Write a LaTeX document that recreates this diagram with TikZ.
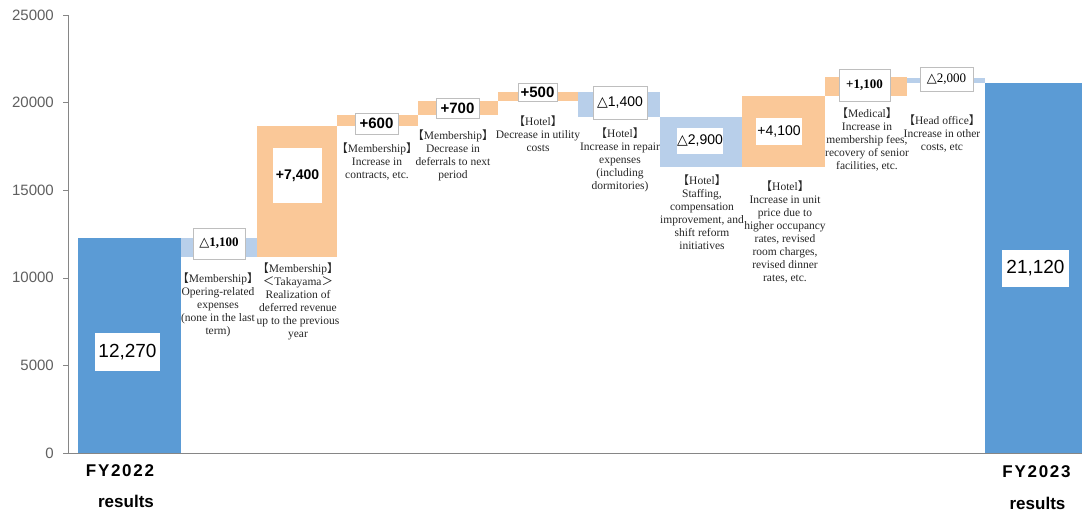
\documentclass[tikz,border=0pt]{standalone}
\usepackage{fontspec}
\setmainfont{Liberation Serif}
\setsansfont{Liberation Sans}
\newfontfamily\cjkf{Noto Sans CJK JP}
\newfontfamily\djvf{DejaVu Sans}
\newfontfamily\catf[LetterSpace=10]{Liberation Sans}
\newcommand\lbk{{\cjkf 【}}
\newcommand\rbk{{\cjkf 】}}
\newcommand\tri{{\djvf △}}
\definecolor{bluebar}{RGB}{91,155,213}
\definecolor{lightbar}{RGB}{184,207,234}
\definecolor{orangebar}{RGB}{250,200,152}
\definecolor{boxgray}{RGB}{190,190,190}
\definecolor{axisgray}{RGB}{134,134,134}
\definecolor{ticktext}{RGB}{95,95,95}
\begin{document}
\begin{tikzpicture}[x=1pt,y=-1pt,
  note/.style={align=center, anchor=north, inner sep=0pt, font=\fontsize{11.5}{13}\selectfont, text=black!85},
  valbox/.style={draw=boxgray, line width=0.6pt, fill=white, inner sep=0pt, text=black},
  bigbox/.style={fill=white, inner sep=0pt, text=black, font=\sffamily\fontsize{19}{22}\selectfont},
  sansval/.style={font=\sffamily\bfseries\fontsize{14}{16}\selectfont},
  serifval/.style={font=\bfseries\fontsize{13}{15}\selectfont},
  ticklab/.style={anchor=east, inner sep=0pt, text=ticktext, font=\sffamily\fontsize{15}{17}\selectfont},
  catlab/.style={inner sep=0pt, font=\catf\bfseries\fontsize{17}{19}\selectfont},
  catlabb/.style={inner sep=0pt, font=\sffamily\bfseries\fontsize{17}{19}\selectfont}
]
\useasboundingbox (0,0) rectangle (1082,512);
% axis
\draw[axisgray, line width=0.6pt] (68,15) -- (68,453);
\draw[axisgray, line width=0.6pt] (63,453) -- (1082,453);
\foreach \yy/\lab [count=\i] in {15/25000,102.6/20000,190.2/15000,277.8/10000,365.4/5000,453/0}{
  \draw[axisgray, line width=0.6pt] (63,\yy) -- (68,\yy);
  \node[ticklab] (tick\i) at (54,\yy) {\lab};
}
% totals
\fill[bluebar] (78,238) rectangle (181,453);
\fill[bluebar] (985,83) rectangle (1082,453);
% floating bars
\fill[lightbar] (181,238) rectangle (257,257);
\fill[orangebar] (257,126) rectangle (337,257);
\fill[orangebar] (337,115) rectangle (418,126);
\fill[orangebar] (418,101) rectangle (498,115);
\fill[orangebar] (498,92) rectangle (578,101);
\fill[lightbar] (578,92) rectangle (660,117);
\fill[lightbar] (660,117) rectangle (742,167);
\fill[orangebar] (742,96) rectangle (825,167);
\fill[orangebar] (825,77) rectangle (907,96);
\fill[lightbar] (907,78) rectangle (985,83);
% value boxes
\node[bigbox, minimum width=65pt, minimum height=38pt] (v0) at (127.5,352) {12,270};
\node[bigbox, minimum width=67pt, minimum height=37pt] (v11) at (1035.5,268.5) {21,120};
\node[valbox, serifval, minimum width=52pt, minimum height=31pt] (v1) at (219,243.5) {\tri1,100};
\node[valbox, sansval, minimum width=49pt, minimum height=55pt, draw=none] (v2) at (297.5,175.5) {+7,400};
\node[valbox, sansval, minimum width=43pt, minimum height=21pt, font=\sffamily\bfseries\fontsize{15}{17}\selectfont] (v3) at (376.5,123.5) {+600};
\node[valbox, sansval, minimum width=43pt, minimum height=20pt, font=\sffamily\bfseries\fontsize{15}{17}\selectfont] (v4) at (457.5,108) {+700};
\node[valbox, sansval, minimum width=39pt, minimum height=18pt, font=\sffamily\bfseries\fontsize{15}{17}\selectfont] (v5) at (537.5,92) {+500};
\node[valbox, font=\sffamily\fontsize{14}{16}\selectfont, minimum width=54pt, minimum height=33pt] (v6) at (620,102.5) {\tri1,400};
\node[valbox, font=\sffamily\fontsize{14}{16}\selectfont, minimum width=44pt, minimum height=26pt, draw=none] (v7) at (700,141) {\tri2,900};
\node[valbox, font=\sffamily\fontsize{14}{16}\selectfont, minimum width=46pt, minimum height=27pt, draw=none] (v8) at (779,131.5) {+4,100};
\node[valbox, serifval, minimum width=51pt, minimum height=32pt] (v9) at (864.5,85) {+1,100};
\node[valbox, font=\fontsize{13}{15}\selectfont, minimum width=53pt, minimum height=24pt] (v10) at (946.5,79) {\tri2,000};
% notes
\node[note] (n1) at (218,273) {\lbk Membership\rbk\\Opering-related\\expenses\\(none in the last\\term)};
\node[note] (n2) at (298,263) {\lbk Membership\rbk\\{\cjkf ＜}Takayama{\cjkf ＞}\\Realization of\\deferred revenue\\up to the previous\\year};
\node[note] (n3) at (377,143) {\lbk Membership\rbk\\Increase in\\contracts, etc.};
\node[note] (n4) at (453,130) {\lbk Membership\rbk\\Decrease in\\deferrals to next\\period};
\node[note] (n5) at (538,116) {\lbk Hotel\rbk\\Decrease in utility\\costs};
\node[note] (n6) at (620,128) {\lbk Hotel\rbk\\Increase in repair\\expenses\\(including\\dormitories)};
\node[note] (n7) at (702,175) {\lbk Hotel\rbk\\Staffing,\\compensation\\improvement, and\\shift reform\\initiatives};
\node[note] (n8) at (785,181) {\lbk Hotel\rbk\\Increase in unit\\price due to\\higher occupancy\\rates, revised\\room charges,\\revised dinner\\rates, etc.};
\node[note] (n9) at (867,108) {\lbk Medical\rbk\\Increase in\\membership fees,\\recovery of senior\\facilities, etc.};
\node[note] (n10) at (942,115) {\lbk Head office\rbk\\Increase in other\\costs, etc};
% category labels
\node[catlab] (c1a) at (120,471) {FY2022};
\node[catlabb] (c1b) at (126,501) {results};
\node[catlab] (c2a) at (1036.5,472) {FY2023};
\node[catlabb] (c2b) at (1037.5,503) {results};
\end{tikzpicture}
\end{document}
